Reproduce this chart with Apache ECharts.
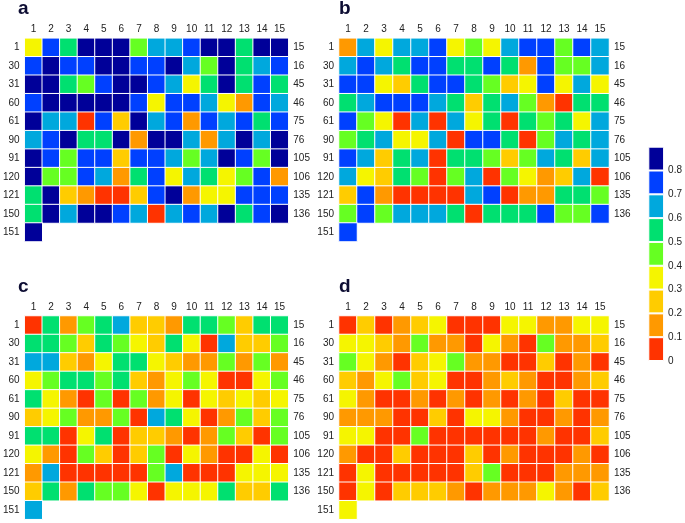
<!DOCTYPE html>
<html>
<head>
<meta charset="utf-8">
<script src="https://cdn.jsdelivr.net/npm/echarts@6/dist/echarts.min.js"></script>
<style>
html,body{margin:0;padding:0;background:#fff;}
#main{width:685px;height:523px;}
</style>
</head>
<body>
<div id="main"></div>
<script>
// ---- data ----
const colLabels = ['1','2','3','4','5','6','7','8','9','10','11','12','13','14','15'];
const rowLabelsLeft = ['1','30','31','60','61','90','91','120','121','150','151'];
const rowLabelsRight = ['15','16','45','46','75','76','105','106','135','136',''];
const panelTitles = ['a','b','c','d'];

const panelA = [
  [.35,.75,.55,.85,.85,.85,.45,.65,.65,.75,.85,.85,.55,.85,.85],
  [.75,.85,.75,.75,.85,.85,.75,.75,.85,.65,.45,.85,.55,.65,.75],
  [.85,.85,.55,.45,.75,.85,.85,.75,.65,.35,.55,.85,.55,.75,.55],
  [.75,.85,.85,.85,.85,.85,.75,.35,.75,.75,.65,.35,.15,.75,.65],
  [.85,.65,.65,.05,.75,.25,.85,.65,.75,.15,.75,.65,.75,.55,.75],
  [.65,.75,.85,.55,.55,.85,.15,.85,.85,.65,.15,.65,.85,.65,.85],
  [.85,.75,.45,.75,.75,.25,.75,.75,.65,.45,.65,.85,.75,.45,.85],
  [.85,.45,.45,.75,.65,.15,.55,.75,.35,.65,.55,.35,.45,.75,.15],
  [.55,.85,.25,.15,.05,.05,.25,.75,.85,.15,.35,.35,.75,.75,.75],
  [.55,.85,.65,.85,.85,.75,.65,.05,.65,.75,.65,.85,.55,.75,.85],
  [.85]
];
const panelB = [
  [.15,.65,.35,.65,.65,.75,.35,.45,.35,.65,.75,.75,.45,.75,.65],
  [.65,.75,.65,.55,.75,.75,.55,.55,.75,.55,.15,.75,.45,.45,.65],
  [.75,.75,.35,.25,.55,.75,.75,.55,.45,.25,.35,.75,.35,.65,.35],
  [.55,.65,.75,.75,.75,.65,.55,.25,.55,.65,.45,.15,.05,.55,.55],
  [.75,.45,.35,.05,.65,.05,.65,.35,.55,.05,.55,.45,.55,.35,.65],
  [.45,.55,.65,.35,.35,.65,.05,.75,.75,.55,.05,.45,.65,.55,.65],
  [.75,.65,.25,.55,.65,.05,.55,.55,.45,.25,.45,.65,.55,.25,.65],
  [.65,.35,.25,.55,.45,.05,.45,.65,.05,.45,.35,.15,.25,.65,.05],
  [.25,.75,.15,.05,.05,.05,.05,.65,.75,.05,.15,.15,.55,.55,.45],
  [.45,.75,.45,.65,.65,.65,.55,.05,.55,.55,.55,.75,.45,.45,.75],
  [.75]
];
const panelC = [
  [.05,.55,.15,.45,.55,.65,.25,.25,.15,.55,.55,.45,.25,.55,.55],
  [.55,.55,.45,.25,.55,.45,.35,.25,.55,.35,.05,.65,.25,.25,.45],
  [.65,.65,.25,.15,.35,.55,.55,.35,.25,.15,.15,.45,.15,.45,.15],
  [.35,.45,.55,.55,.45,.55,.25,.15,.35,.45,.35,.05,.05,.35,.45],
  [.55,.35,.15,.05,.45,.05,.45,.15,.35,.05,.35,.25,.35,.25,.35],
  [.25,.35,.45,.15,.15,.45,.05,.65,.55,.35,.05,.15,.45,.25,.45],
  [.55,.55,.05,.35,.55,.05,.25,.25,.15,.05,.15,.45,.25,.05,.45],
  [.35,.15,.05,.45,.25,.05,.25,.45,.05,.35,.15,.05,.05,.35,.05],
  [.15,.65,.05,.05,.05,.05,.05,.45,.65,.05,.05,.05,.35,.35,.35],
  [.25,.55,.15,.55,.45,.45,.35,.05,.35,.35,.35,.55,.25,.25,.55],
  [.65]
];
const panelD = [
  [.05,.25,.05,.15,.25,.35,.05,.05,.05,.35,.35,.15,.15,.35,.35],
  [.35,.35,.25,.15,.45,.15,.15,.05,.35,.15,.05,.45,.15,.15,.25],
  [.45,.35,.15,.05,.25,.35,.45,.15,.15,.05,.05,.25,.05,.15,.05],
  [.25,.15,.35,.45,.25,.35,.05,.05,.15,.25,.15,.05,.05,.15,.25],
  [.35,.15,.05,.05,.15,.05,.15,.05,.15,.05,.15,.05,.25,.05,.05],
  [.15,.15,.15,.05,.05,.25,.05,.35,.35,.15,.05,.05,.15,.05,.15],
  [.35,.35,.05,.05,.45,.05,.05,.05,.05,.05,.05,.15,.05,.05,.25],
  [.15,.05,.05,.25,.05,.05,.05,.25,.05,.15,.05,.05,.05,.15,.05],
  [.05,.35,.05,.05,.05,.05,.05,.25,.45,.05,.05,.05,.15,.15,.15],
  [.05,.35,.05,.25,.25,.25,.15,.05,.15,.15,.15,.35,.15,.05,.25],
  [.35]
];

// colour scale bins (lower bounds) and colours
const binEdges = [0, 0.1, 0.2, 0.3, 0.4, 0.5, 0.6, 0.7, 0.8, 0.9];
const binColors = ['#FF3300','#FF9900','#FFCC00','#F5F500','#66FF22','#00E070','#00A8DD','#0040FF','#000099'];

// ---- layout ----
const panels = [panelA, panelB, panelC, panelD];
const gridPos = [
  {left: 18.3, top: 38.3},
  {left: 339, top: 38.3},
  {left: 18.3, top: 316},
  {left: 339, top: 316}
];
const titlePos = [
  {left: 18, top: -1},
  {left: 339, top: -1},
  {left: 18, top: 277},
  {left: 339, top: 277}
];
const GW = 270, GH = 203.2;
const labelStyle = {fontFamily: '"Liberation Sans Narrow", "Arial Narrow", Arial, sans-serif', fontSize: 10, color: '#222'};

const grids = [], xAxes = [], yAxes = [], series = [], titles = [];
panels.forEach((p, i) => {
  grids.push({left: gridPos[i].left, top: gridPos[i].top, width: GW, height: GH, containLabel: false});
  xAxes.push({
    type: 'category', gridIndex: i, data: colLabels, position: 'top',
    axisLine: {show: false}, axisTick: {show: false}, splitLine: {show: false},
    axisLabel: Object.assign({margin: 4, interval: 0}, labelStyle)
  });
  yAxes.push({
    type: 'category', gridIndex: i, data: rowLabelsLeft, inverse: true, position: 'left',
    axisLine: {show: false}, axisTick: {show: false}, splitLine: {show: false},
    axisLabel: Object.assign({margin: 5, interval: 0}, labelStyle)
  });
  yAxes.push({
    type: 'category', gridIndex: i, data: rowLabelsRight, inverse: true, position: 'right',
    axisLine: {show: false}, axisTick: {show: false}, splitLine: {show: false},
    axisLabel: Object.assign({margin: 5, interval: 0}, labelStyle)
  });
  const data = [];
  p.forEach((row, r) => row.forEach((v, c) => data.push([c, r, v])));
  series.push({
    type: 'heatmap', xAxisIndex: i, yAxisIndex: i * 2, data: data,
    itemStyle: {borderColor: '#ffffff', borderWidth: 1},
    emphasis: {disabled: true}, silent: true
  });
  titles.push({
    text: panelTitles[i], left: titlePos[i].left, top: titlePos[i].top, padding: 0,
    textStyle: {fontFamily: 'Arial, "Liberation Sans", sans-serif', fontSize: 19, fontWeight: 'bold', color: '#0d0d33'}
  });
});

// colour bar grid built from bins
const cbIndex = panels.length;
grids.push({left: 648.3, top: 146.7, width: 17.4, height: 214.3});
xAxes.push({type: 'category', gridIndex: cbIndex, data: [''], show: false});
yAxes.push({
  type: 'value', gridIndex: cbIndex, position: 'right', min: 0, max: 0.9, interval: 0.1,
  axisLine: {show: false}, axisTick: {show: false}, splitLine: {show: false},
  axisLabel: Object.assign({
    margin: 4,
    formatter: function (v) { if (v > 0.85) return ''; return v === 0 ? '0' : v.toFixed(1); }
  }, labelStyle)
});
binColors.forEach((col, k) => {
  series.push({
    type: 'bar', xAxisIndex: cbIndex, yAxisIndex: yAxes.length - 1, stack: 'cb',
    barWidth: '100%', silent: true,
    data: [+(binEdges[k + 1] - binEdges[k]).toFixed(2)],
    itemStyle: {color: col, borderColor: '#ffffff', borderWidth: 1}
  });
});

const pieces = binColors.map((c, k) => ({gte: binEdges[k], lt: binEdges[k + 1], color: c}));

const chart = echarts.init(document.getElementById('main'), null, {renderer: 'canvas'});
chart.setOption({
  animation: false,
  backgroundColor: '#ffffff',
  title: titles,
  grid: grids,
  xAxis: xAxes,
  yAxis: yAxes,
  visualMap: {type: 'piecewise', show: false, seriesIndex: [0, 1, 2, 3], pieces: pieces, dimension: 2},
  series: series
});
</script>
</body>
</html>
